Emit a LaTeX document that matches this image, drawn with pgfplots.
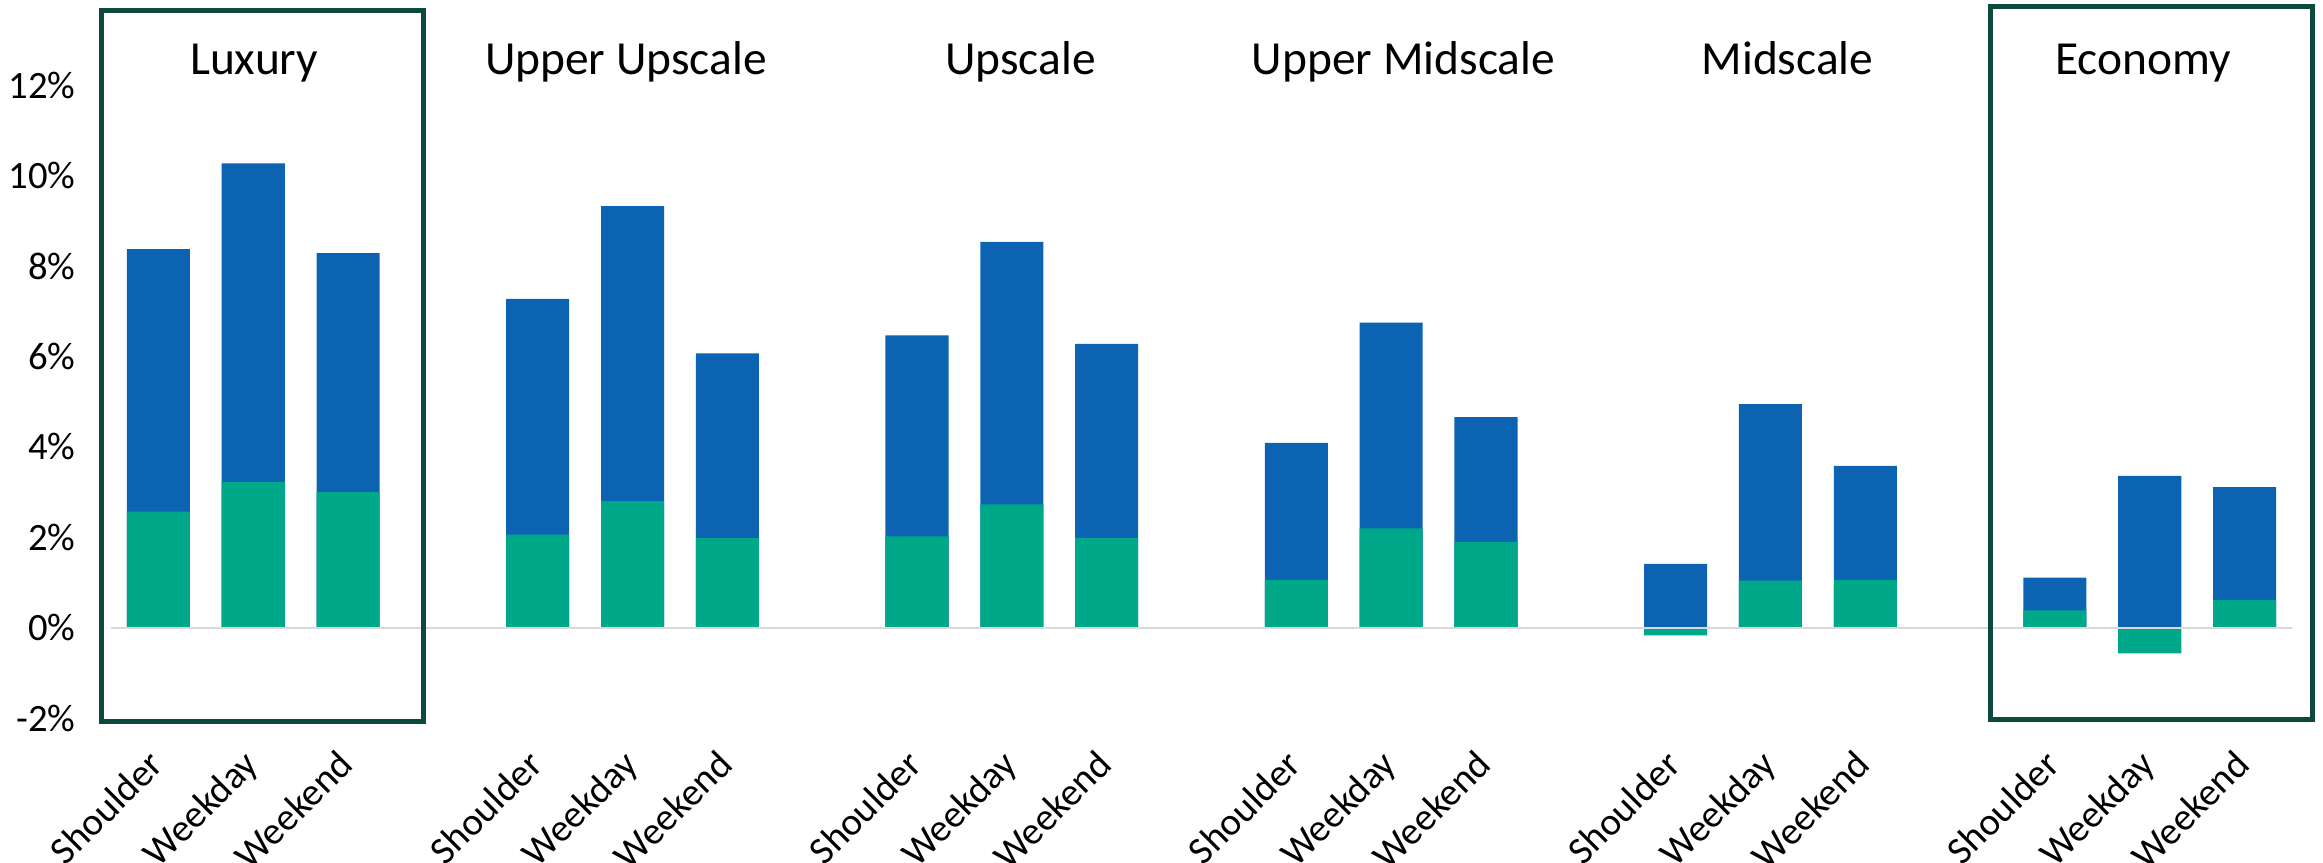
\documentclass[border=0pt]{standalone}
\usepackage{fontspec}
\setmainfont{Carlito}
\usepackage{pgfplots}
\pgfplotsset{compat=1.18}
\usepackage{pgfplotstable}

\definecolor{barblue}{HTML}{0B63B2}
\definecolor{bargreen}{HTML}{00A88A}
\definecolor{boxgreen}{HTML}{0B4A3C}
\definecolor{zeroline}{HTML}{D9D9D9}

% pos: slot on the x axis (one empty slot between segments)
% total: overall change (%), part: contribution shown in green (%)
\pgfplotstableread{
pos total part
0  8.38  2.57
1  10.28 3.23
2  8.29  3.00
4  7.28  2.06
5  9.33  2.80
6  6.07  1.98
8  6.47  2.02
9  8.54  2.73
10 6.28  1.99
12 4.09  1.06
13 6.75  2.20
14 4.66  1.90
16 1.41  -0.17
17 4.95  1.04
18 3.58  1.06
20 1.11  0.38
21 3.36  -0.57
22 3.11  0.61
}\ratetable

\begin{document}
\begin{tikzpicture}
% page frame: the rotated labels run off the bottom edge
\useasboundingbox (-1.11,-1.45) rectangle (22.12,7.18);
\begin{axis}[
  at={(0,0)}, anchor=south west,
  scale only axis,
  width=21.81cm, height=6.324cm,
  xmin=-0.5, xmax=22.5,
  ymin=-2, ymax=12,
  axis line style={draw=none},
  major tick length=0pt,
  ytick={-2,0,2,4,6,8,10,12},
  yticklabels={-2\%,0\%,2\%,4\%,6\%,8\%,10\%,12\%},
  yticklabel style={anchor=east, inner sep=0pt, xshift=-0.35cm,
    font=\fontsize{11}{13}\selectfont},
  xtick={0,1,2,4,5,6,8,9,10,12,13,14,16,17,18,20,21,22},
  xticklabels={Shoulder,Weekday,Weekend,Shoulder,Weekday,Weekend,
    Shoulder,Weekday,Weekend,Shoulder,Weekday,Weekend,
    Shoulder,Weekday,Weekend,Shoulder,Weekday,Weekend},
  % shifts act along the rotated text direction
  xticklabel style={rotate=45, anchor=north east, inner sep=0pt,
    xshift=-0.29cm, yshift=-0.12cm,
    font=\fontsize{11}{13}\selectfont},
  ybar, bar width=0.665, bar shift=0pt,
  clip=false,
]
\addplot[draw=none, fill=barblue] table[x=pos, y=total] {\ratetable};
\addplot[draw=none, fill=bargreen] table[x=pos, y=part] {\ratetable};

\draw[zeroline, line width=0.02cm] (axis cs:-0.5,0) -- (axis cs:22.5,0);

\draw[boxgreen, line width=0.05cm] (axis cs:-0.60,-2.07) rectangle (axis cs:2.80,13.67);
\draw[boxgreen, line width=0.05cm] (axis cs:19.32,-2.03) rectangle (axis cs:22.72,13.76);

\begin{scope}[every node/.style={anchor=base, font=\fontsize{13.5}{15}\selectfont}]
\node at (axis cs:1.01,12.25) {Luxury};
\node at (axis cs:4.93,12.25) {Upper Upscale};
\node at (axis cs:9.09,12.25) {Upscale};
\node at (axis cs:13.13,12.25) {Upper Midscale};
\node at (axis cs:17.18,12.25) {Midscale};
\node at (axis cs:20.93,12.25) {Economy};
\end{scope}
\end{axis}
\end{tikzpicture}
\end{document}
